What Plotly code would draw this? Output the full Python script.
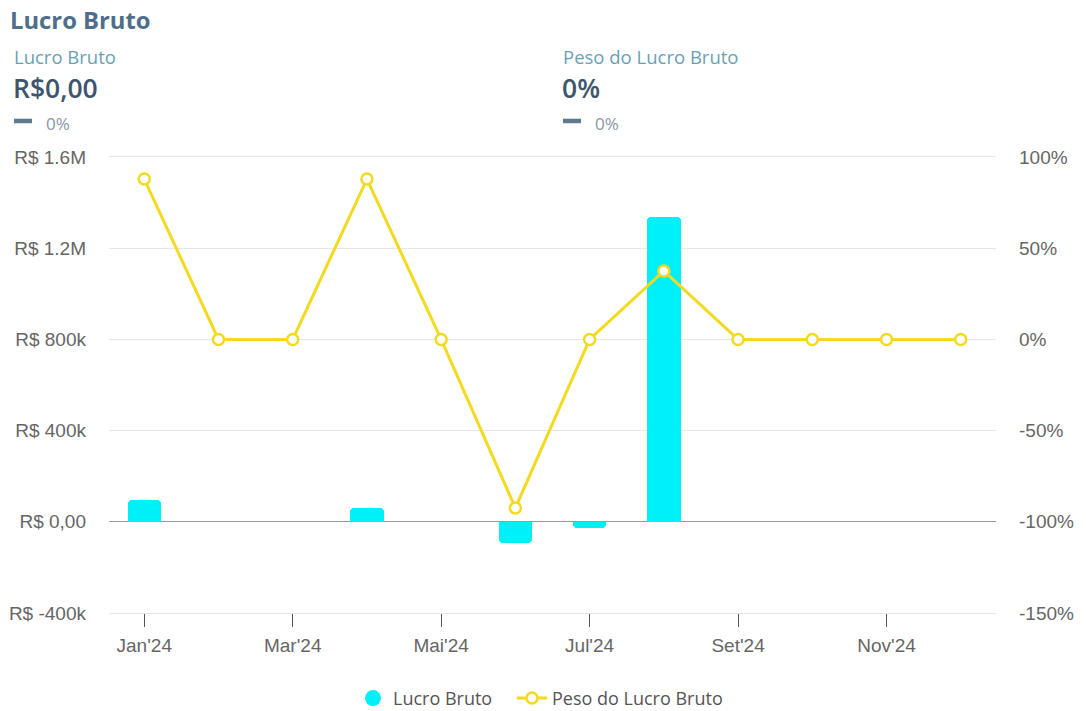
import plotly.graph_objects as go

# ---- data ----
months = ["Jan'24", "Fev'24", "Mar'24", "Abr'24", "Mai'24", "Jun'24",
          "Jul'24", "Ago'24", "Set'24", "Out'24", "Nov'24", "Dez'24"]
lucro_bruto = [95000, 0, 0, 60000, 0, -95000, -28000, 1338000, 0, 0, 0, 0]
peso_lucro = [87.9, 0, 0, 87.9, 0, -92.4, 0, 37.5, 0, 0, 0, 0]

left_tickvals = [-400000, 0, 400000, 800000, 1200000, 1600000]
left_ticktext = ["R$ -400k", "R$ 0,00", "R$ 400k", "R$ 800k", "R$ 1.2M", "R$ 1.6M"]
right_tickvals = [-150, -100, -50, 0, 50, 100]
right_ticktext = ["-150%", "-100%", "-50%", "0%", "50%", "100%"]
shown_month_idx = [0, 2, 4, 6, 8, 10]

kpi_labels = ["Lucro Bruto", "Peso do Lucro Bruto"]
kpi_values = ["R$0,00", "0%"]
kpi_changes = ["0%", "0%"]

CYAN = "#00F0FA"
YELLOW = "#F4DA1F"

W, H = 1086, 711
L, R, T, B = 109, 996, 157, 612.7


def px(x):
    return (x - L) / (R - L)


def py(y):
    return (B - y) / (B - T)


x_idx = list(range(len(months)))
bar_y = [v if v != 0 else None for v in lucro_bruto]

fig = go.Figure()
fig.add_trace(go.Bar(
    x=x_idx, y=bar_y, name="Lucro Bruto",
    marker=dict(color=CYAN, cornerradius=4, line=dict(width=0)),
    width=0.45, showlegend=False, yaxis="y"))
fig.add_trace(go.Scatter(
    x=[None], y=[None], mode="markers", name="Lucro Bruto",
    marker=dict(color=CYAN, size=17, symbol="circle"), showlegend=True, legend="legend"))
fig.add_trace(go.Scatter(
    x=x_idx, y=peso_lucro, name="Peso do Lucro Bruto", mode="lines+markers",
    line=dict(color=YELLOW, width=3),
    marker=dict(symbol="circle", size=11, color="white", line=dict(color=YELLOW, width=2.5)),
    yaxis="y2", legend="legend2"))

tick_font = dict(family="Liberation Sans, Arial, sans-serif", size=19, color="#666666")
legend_font = dict(family="Open Sans, sans-serif", size=18, color="#555555")

fig.update_layout(
    width=W, height=H,
    margin=dict(l=L, r=W - R, t=T, b=H - B, pad=0, autoexpand=False),
    paper_bgcolor="white", plot_bgcolor="white",
    bargap=0,
    xaxis=dict(
        range=[-0.475, 11.475], tickmode="array",
        tickvals=shown_month_idx, ticktext=[months[i] for i in shown_month_idx],
        ticks="outside", ticklen=13, tickcolor="#555555", tickwidth=1.2,
        ticklabelstandoff=2,
        showgrid=False, zeroline=False, showline=True, mirror=True,
        linecolor="#E6E6E6", linewidth=1, tickfont=tick_font,
        fixedrange=True),
    yaxis=dict(
        range=[-400000, 1600000], tickmode="array",
        tickvals=left_tickvals, ticktext=left_ticktext,
        showgrid=True, gridcolor="#E6E6E6", gridwidth=1,
        zeroline=True, zerolinecolor="#9A9A9A", zerolinewidth=1.2,
        showline=False, ticks="", ticklabelstandoff=22, tickfont=tick_font),
    yaxis2=dict(
        range=[-150, 100], tickmode="array",
        tickvals=right_tickvals, ticktext=right_ticktext,
        overlaying="y", side="right", showgrid=False, zeroline=False,
        showline=False, ticks="", ticklabelstandoff=22, tickfont=tick_font),
    legend=dict(
        orientation="h", x=px(353), xanchor="left", y=py(698), yanchor="middle",
        font=legend_font, itemsizing="trace", bgcolor="rgba(0,0,0,0)"),
    legend2=dict(
        orientation="h", x=px(512), xanchor="left", y=py(698), yanchor="middle",
        font=legend_font, itemsizing="trace", bgcolor="rgba(0,0,0,0)"),
    showlegend=True,
)

annotations = [
    dict(text="Lucro Bruto", x=px(8), y=py(20), xanchor="left", yanchor="middle",
         font=dict(family="Open Sans, sans-serif", size=23.8, color="#4F6E8C", weight=700)),
]
shapes = []
for i, bx in enumerate([11, 560]):
    annotations.append(dict(text=kpi_labels[i], x=px(bx + 1), y=py(57), xanchor="left", yanchor="middle",
                            font=dict(family="Open Sans, sans-serif", size=18.5, color="#6B9FB5")))
    annotations.append(dict(text=kpi_values[i], x=px(bx), y=py(88), xanchor="left",
                            yanchor="middle",
                            font=dict(family="Open Sans, sans-serif", size=26.5, color="#3E566B",
                                      weight=600)))
    annotations.append(dict(text=kpi_changes[i], x=px(bx + 33), y=py(124), xanchor="left", yanchor="middle",
                            font=dict(family="Open Sans, sans-serif", size=17, color="#8797A4")))
    shapes.append(dict(type="line", xref="paper", yref="paper",
                       x0=px(bx + 3), x1=px(bx + 21), y0=py(121), y1=py(121),
                       line=dict(color="#5F7A8E", width=4.5)))

for a in annotations:
    a.update(xref="paper", yref="paper", showarrow=False)

fig.update_layout(annotations=annotations, shapes=shapes)

fig.write_html("out.html", config={"displayModeBar": False},
               post_script="document.body.style.margin='0';")
